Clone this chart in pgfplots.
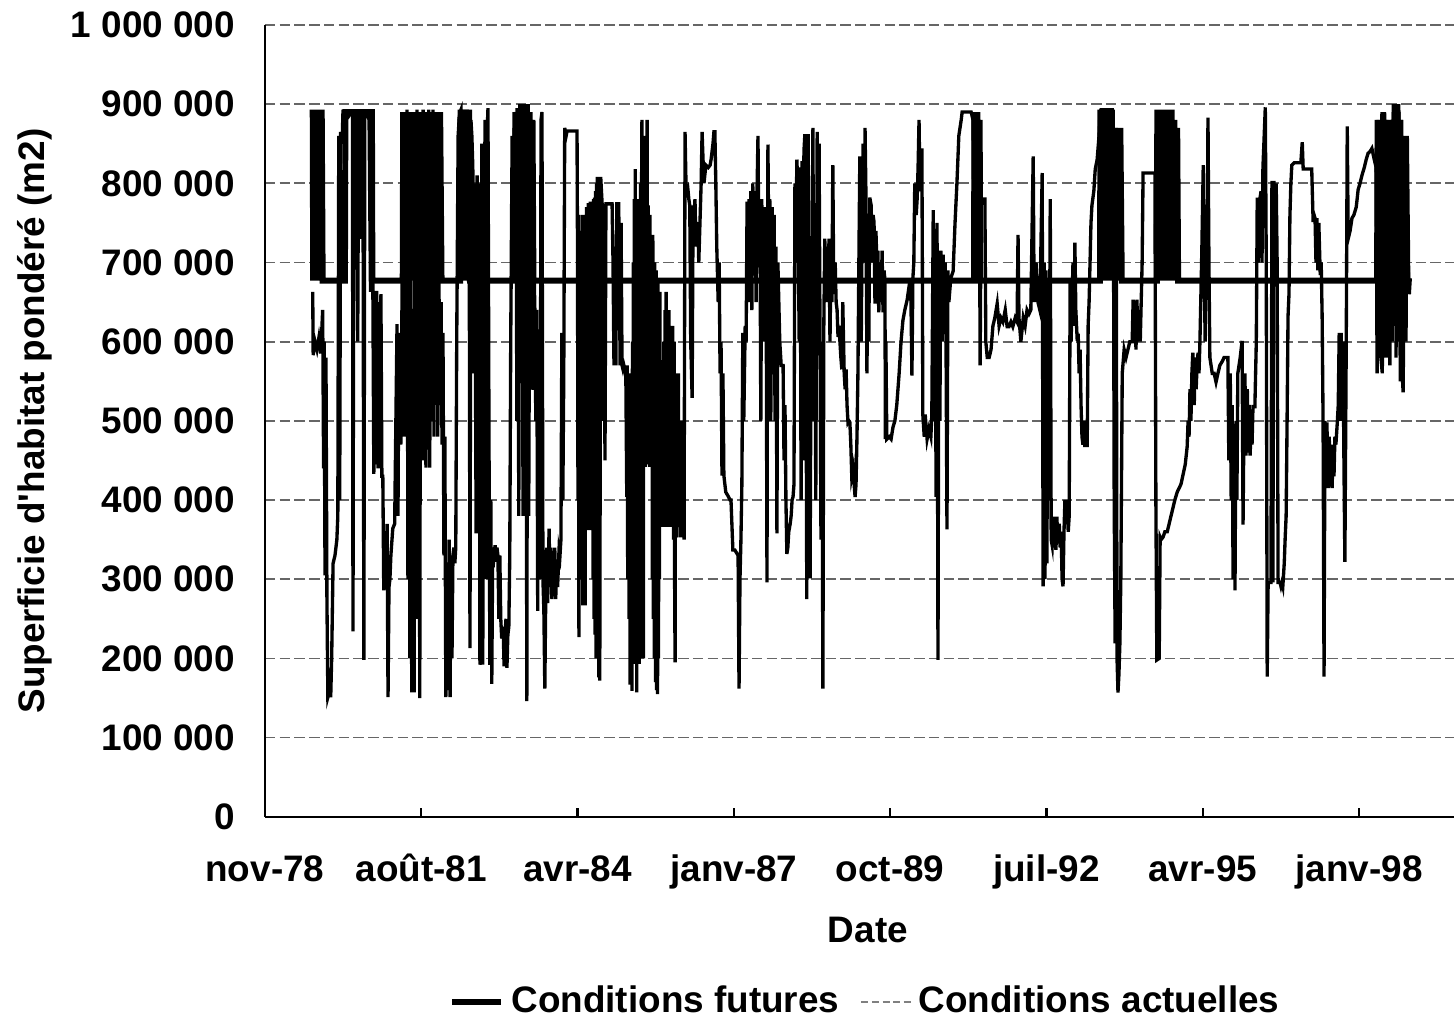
\documentclass[border=0pt]{standalone}
\usepackage{fontspec}
\setmainfont{Liberation Sans}
\usepackage{pgfplots}
\pgfplotsset{compat=1.18}
\newcommand{\lf}{\fontsize{10.5}{12.6}\selectfont\bfseries}
\begin{document}
\begin{tikzpicture}
\begin{axis}[
  name=ax,
  scale only axis,
  width=343.3pt, height=225.4pt,
  xmin=0, xmax=254.6,
  ymin=0, ymax=1000000,
  clip=true,
  axis x line*=bottom, axis y line*=left,
  axis line style={black, line width=0.6pt},
  xtick={0,33,66,99,132,165,198,231},
  xticklabels={nov-78,août-81,avr-84,janv-87,oct-89,juil-92,avr-95,janv-98},
  ytick={0,100000,200000,300000,400000,500000,600000,700000,800000,900000,1000000},
  yticklabels={0,100 000,200 000,300 000,400 000,500 000,600 000,700 000,800 000,900 000,1 000 000},
  scaled y ticks=false,
  tick align=inside,
  major tick length=2.5pt,
  xtick style={black, line width=0.6pt},
  ytick style={draw=none},
  xticklabel style={font=\lf, anchor=base, yshift=-18.5pt},
  yticklabel style={font=\lf, anchor=east, xshift=-5pt},
  ymajorgrids,
  major grid style={black!60, dash pattern=on 3pt off 1.2pt, line width=0.5pt},
  xlabel={Date},
  ylabel={Superficie d\textquotesingle habitat pondéré (m2)},
  every axis x label/.style={at={(axis description cs:0.5,0)}, anchor=base, yshift=-35.9pt, font=\lf},
  every axis y label/.style={at={(axis description cs:-0.1907,0.5)}, rotate=90, anchor=center, font=\lf},
  legend image code/.code={\draw[#1] (0pt,0pt) -- (14pt,0pt);},
  legend style={draw=none, fill=none, at={(0.5,0)}, anchor=center, yshift=-52.7pt,
    font=\lf, legend columns=2, /tikz/every even column/.append style={column sep=4pt}},
]
\addlegendimage{black, line width=1.7pt}
\addlegendentry{Conditions futures}
\addlegendimage{gray, dash pattern=on 2pt off 1pt, line width=0.6pt}
\addlegendentry{Conditions actuelles}

% Conditions actuelles (x = months since nov-78)
\addplot[black, line width=0.95pt, forget plot] coordinates {
(10.1,663000)(10.2,583000)(10.6,600000)(11.0,590000)(11.4,605000)(11.8,585000)(12.2,640000)(12.4,440000)(12.5,600000)(12.7,305000)(12.9,580000)(13.1,275000)(13.3,151000)(13.7,160000)(13.9,151000)(14.1,200000)(14.4,320000)(14.8,330000)(15.2,350000)(15.4,380000)(15.6,860000)(15.8,400000)(16.0,865000)(16.3,850000)(16.5,893000)(16.7,870000)(16.9,890000)
(17.3,890000)(17.7,885000)(18.2,890000)(18.5,890000)(18.6,234000)(18.8,890000)(19.4,890000)(19.6,600000)(19.8,890000)(20.1,730000)(20.3,890000)(20.7,890000)(20.9,198000)(21.1,890000)(21.5,890000)(22.0,880000)(22.3,663000)(22.4,890000)(22.6,880000)
(22.8,664000)(23.0,433000)(23.2,660000)(23.4,445000)(23.6,664000)(23.9,440000)(24.1,650000)(24.3,460000)(24.5,660000)(24.7,430000)(24.9,430000)(25.1,286000)(25.3,300000)(25.5,290000)(25.8,370000)(26.0,151000)(26.2,290000)(26.4,300000)(26.6,330000)(27.0,364000)(27.4,370000)(27.9,622000)(28.1,380000)(28.3,600000)(28.5,611000)(28.7,470000)(28.9,600000)
(29.1,850000)(29.4,480000)(29.6,890000)(29.8,560000)(30.0,893000)(30.2,300000)(30.4,890000)(30.6,200000)(30.8,880000)(31.0,157000)(31.3,600000)(31.5,157000)(31.7,850000)(31.9,350000)(32.1,893000)(32.3,250000)(32.5,880000)(32.7,150000)(32.9,890000)(33.2,450000)(33.4,893000)(33.6,500000)(33.8,890000)(34.0,441000)(34.2,880000)(34.4,470000)(34.6,893000)(34.8,441000)(35.1,870000)(35.3,500000)(35.5,893000)(35.7,480000)(35.9,890000)(36.1,600000)(36.3,860000)(36.5,480000)(36.7,700000)(37.0,520000)(37.2,650000)(37.4,470000)(37.6,611000)(37.8,330000)(38.0,480000)(38.2,151000)(38.4,300000)(38.6,160000)(38.9,350000)(39.1,151000)(39.3,330000)(39.5,200000)(39.7,330000)(39.9,340000)(40.1,320000)(40.3,340000)(40.5,600000)(40.8,860000)(41.0,880000)(41.2,890000)
(41.4,893000)(41.6,700000)(41.8,893000)(42.0,680000)(42.2,893000)(42.4,700000)(42.7,893000)(42.9,690000)(43.1,890000)(43.3,213000)(43.5,880000)(43.7,860000)(43.9,820000)(44.1,560000)(44.3,800000)(44.6,358000)(44.8,810000)(45.0,640000)(45.2,800000)(45.4,192000)(45.6,400000)(45.8,850000)(46.0,192000)(46.2,700000)(46.5,880000)(46.7,300000)(46.9,860000)(47.1,895000)(47.3,500000)(47.5,192000)(47.7,400000)(47.9,168000)(48.1,340000)(48.4,330000)(48.6,343000)(48.8,322000)(49.0,340000)(49.2,330000)(49.4,250000)(49.6,330000)(49.8,250000)(50.0,225000)(50.3,240000)(50.5,190000)(50.7,230000)(50.9,250000)(51.1,188000)(51.3,230000)(51.5,240000)(51.7,330000)(51.9,600000)(52.2,860000)(52.4,700000)(52.6,870000)(52.8,860000)
(53.0,890000)(53.2,500000)(53.4,893000)(53.6,380000)(53.8,890000)(54.1,600000)(54.3,895000)(54.5,380000)(54.7,900000)(54.9,420000)(55.1,900000)(55.3,146000)(55.5,900000)(55.7,380000)(56.0,890000)(56.2,540000)(56.4,880000)(56.6,539000)(56.8,700000)(57.0,640000)(57.2,500000)(57.4,640000)(57.6,260000)(57.8,600000)(58.1,300000)(58.3,880000)(58.5,890000)(58.7,300000)(58.9,260000)(59.1,162000)(59.3,280000)(59.5,340000)(59.7,270000)(60.0,364000)(60.2,290000)(60.4,340000)(60.6,275000)(60.8,330000)(61.0,300000)(61.2,340000)(61.4,275000)(61.6,320000)(61.8,290000)(62.1,337000)(62.3,330000)(62.5,350000)(62.7,611000)(62.9,400000)
(63.1,560000)(63.3,870000)(63.6,860000)(63.8,866000)(64.4,866000)(65.0,866000)(65.7,866000)(65.9,866000)(66.0,715000)(66.1,400000)(66.2,760000)(66.3,227000)(66.4,700000)(66.5,360000)(66.6,740000)(66.7,300000)(66.8,720000)(66.9,380000)(67.0,760000)(67.1,267000)(67.2,700000)(67.4,350000)(67.5,760000)(67.6,267000)(67.7,740000)(67.8,400000)(67.9,770000)(68.0,362000)(68.1,740000)(68.2,370000)(68.3,775000)(68.4,362000)(68.5,760000)(68.6,380000)(68.7,777000)(68.8,362000)(68.9,770000)(69.0,370000)(69.1,777000)(69.3,300000)(69.4,780000)(69.5,250000)(69.6,782000)(69.7,230000)(69.8,790000)(69.9,200000)(70.0,800000)(70.1,250000)(70.2,808000)(70.3,200000)(70.4,800000)(70.5,176000)(70.6,808000)(70.7,172000)(70.9,808000)(71.2,774000)
(71.4,500000)(71.6,774000)(71.8,450000)(72.0,774000)(72.4,774000)(72.8,774000)(73.3,774000)(73.5,700000)(73.7,570000)(73.9,720000)(74.1,570000)(74.3,774000)(74.7,774000)
(75.0,570000)(75.2,750000)(75.4,570000)(75.6,565000)(75.8,570000)(76.0,565000)(76.2,560000)(76.4,404000)(76.5,570000)(76.6,300000)(76.7,560000)(76.9,250000)(77.0,560000)(77.1,167000)(77.2,540000)(77.3,200000)(77.4,560000)(77.5,159000)(77.6,600000)(77.7,200000)(77.8,700000)(77.9,193000)(78.0,780000)(78.1,250000)(78.2,818000)(78.3,200000)(78.4,760000)(78.5,157000)(78.7,700000)(78.8,220000)(78.9,780000)(79.0,193000)(79.1,720000)(79.2,300000)(79.3,800000)(79.4,200000)(79.5,760000)(79.6,880000)(79.7,250000)(79.8,860000)(79.9,200000)(80.0,860000)(80.1,500000)(80.2,772000)(80.3,442000)(80.4,800000)(80.6,450000)(80.7,880000)(80.8,460000)(80.9,772000)(81.0,445000)(81.1,760000)(81.2,442000)(81.3,760000)(81.4,450000)(81.5,735000)(81.6,442000)(81.7,735000)(81.8,300000)(81.9,735000)(82.0,250000)(82.1,700000)(82.2,200000)(82.3,700000)(82.5,170000)(82.6,690000)(82.7,160000)(82.8,680000)(82.9,155000)(83.0,680000)(83.1,200000)(83.2,663000)(83.3,300000)(83.4,663000)
(83.5,366000)(83.6,500000)(83.7,370000)(83.8,492000)(83.9,366000)(84.0,520000)(84.1,380000)(84.2,600000)(84.4,366000)(84.5,640000)(84.6,380000)(84.7,663000)(84.8,370000)(84.9,600000)(85.0,366000)(85.1,600000)(85.2,380000)(85.3,640000)(85.4,366000)(85.5,620000)(85.6,370000)(85.7,550000)(85.8,380000)(85.9,560000)(86.0,366000)(86.1,620000)(86.3,350000)(86.4,600000)(86.5,300000)(86.6,195000)(86.7,500000)(86.8,380000)(86.9,560000)(87.0,353000)(87.1,540000)(87.2,380000)(87.3,560000)(87.4,400000)(87.5,500000)(87.6,470000)(87.8,353000)(88.0,420000)(88.3,500000)(88.5,350000)(88.7,865000)(88.9,800000)(89.1,790000)(89.3,793000)(89.5,780000)(89.7,772000)(89.9,600000)(90.2,529000)(90.4,772000)(90.6,760000)(90.8,780000)(91.0,720000)(91.2,740000)(91.4,751000)(91.6,700000)(91.9,760000)(92.1,800000)(92.3,865000)
(92.5,830000)(92.7,800000)(93.1,823000)(93.6,820000)(94.0,823000)(94.2,830000)(94.4,840000)(94.6,850000)(94.8,865000)(95.0,865000)(95.2,800000)(95.4,720000)(95.7,650000)(95.9,700000)(96.1,560000)(96.3,600000)(96.5,431000)(96.7,560000)(96.9,431000)(97.3,410000)(97.8,405000)(98.2,400000)(98.4,400000)(98.8,337000)(99.2,337000)(99.7,332000)(99.9,330000)(100.1,162000)(100.3,300000)(100.5,350000)(100.7,420000)
(100.9,611000)(101.1,500000)(101.4,620000)(101.6,600000)(101.8,777000)(102.0,700000)(102.2,780000)(102.4,650000)(102.6,790000)(102.8,640000)(103.0,800000)(103.3,700000)(103.5,790000)(103.7,650000)(103.9,790000)(104.1,860000)(104.3,700000)(104.5,780000)(104.7,500000)(104.9,780000)(105.2,600000)(105.4,770000)(105.6,700000)(105.8,760000)(106.0,296000)(106.2,849000)(106.4,700000)(106.6,780000)(106.8,500000)(107.1,770000)(107.3,700000)(107.5,760000)(107.7,500000)(107.9,720000)(108.1,358000)(108.3,700000)(108.5,650000)(108.7,600000)(109.0,570000)(109.2,570000)(109.4,570000)(109.6,450000)(109.8,520000)(110.0,400000)(110.2,332000)(110.4,340000)(110.6,360000)(110.9,370000)(111.1,380000)(111.3,400000)(111.5,404000)(111.7,420000)(111.9,800000)(112.1,700000)(112.3,830000)(112.5,800000)
(112.8,600000)(113.0,820000)(113.2,400000)(113.4,828000)(113.6,450000)(113.8,840000)(114.0,862000)(114.2,700000)(114.4,275000)(114.7,862000)(114.9,500000)(115.1,301000)(115.3,600000)(115.5,700000)(115.7,870000)(115.9,500000)(116.1,750000)(116.3,400000)(116.6,865000)(116.8,700000)(117.0,850000)(117.2,600000)(117.4,350000)(117.6,600000)(117.8,162000)(118.0,620000)(118.2,730000)(118.5,650000)(118.7,720000)(118.9,680000)(119.1,730000)(119.3,600000)(119.5,700000)(119.7,650000)(119.9,823000)(120.1,660000)(120.4,700000)(120.6,650000)(120.8,640000)(121.0,606000)(121.2,620000)(121.4,600000)(121.6,580000)(121.8,565000)(122.0,650000)(122.3,560000)(122.5,540000)(122.7,565000)(122.9,520000)(123.1,498000)(123.3,500000)(123.5,498000)(123.7,470000)(123.9,430000)(124.2,440000)(124.4,420000)(124.6,404000)(124.8,420000)(125.0,480000)
(125.2,560000)(125.4,700000)(125.6,834000)(125.9,600000)(126.1,760000)(126.3,850000)(126.5,700000)(126.7,870000)(126.9,782000)(127.1,560000)(127.3,700000)(127.5,600000)(127.7,782000)(128.0,772000)(128.2,700000)(128.4,760000)(128.6,751000)(128.8,648000)(129.0,740000)(129.2,700000)(129.4,715000)(129.6,637000)(129.9,700000)(130.1,650000)(130.3,715000)(130.5,637000)(130.7,690000)(130.9,679000)(131.0,477000)(131.1,600000)(131.3,477000)(131.8,480000)(132.2,477000)(132.6,492000)(133.0,500000)(133.4,520000)(133.9,560000)(134.3,600000)(134.7,627000)(135.1,640000)(135.6,653000)(136.0,670000)(136.2,679000)(136.4,650000)(136.6,557000)(136.8,680000)(137.0,700000)(137.2,800000)(137.5,760000)(137.7,780000)(137.9,820000)(138.1,880000)(138.3,790000)(138.5,820000)(138.7,844000)(138.8,700000)
(138.9,508000)(139.2,480000)(139.4,508000)(139.8,477000)(140.2,490000)(140.6,480000)(140.8,508000)(141.1,766000)(141.3,500000)(141.5,720000)(141.7,404000)(141.9,750000)(142.1,198000)(142.3,700000)(142.5,500000)(142.7,715000)(143.0,600000)(143.2,710000)(143.4,620000)(143.6,700000)(143.8,600000)(144.0,363000)(144.2,690000)(144.4,650000)(144.8,680000)(145.3,689000)(145.7,750000)(146.1,800000)(146.5,860000)(147.0,880000)(147.2,890000)(147.8,890000)(148.4,890000)(149.1,890000)(149.5,880000)(149.7,694000)(149.9,890000)(150.1,700000)(150.3,890000)(150.5,694000)(150.8,880000)(151.0,570000)
(151.2,780000)(151.6,780000)(152.0,780000)(152.2,600000)(152.5,580000)(152.9,580000)(153.3,590000)(153.7,620000)(154.1,630000)(154.6,648000)(155.0,620000)(155.4,630000)(155.8,625000)(156.3,640000)(156.7,619000)(157.1,619000)(157.5,625000)(157.9,619000)(158.4,630000)(158.8,625000)(159.0,735000)(159.2,630000)(159.6,600000)(160.1,630000)(160.5,620000)(160.9,640000)(161.3,635000)(161.7,640000)(162.2,834000)(162.4,650000)(162.8,700000)(163.2,650000)(163.6,640000)(164.1,813000)(164.3,291000)(164.5,700000)(164.7,300000)(164.9,690000)(165.1,320000)(165.3,680000)(165.5,400000)(165.8,780000)(166.0,350000)(166.2,343000)
(166.4,379000)(166.6,340000)(166.8,370000)(167.0,337000)(167.2,379000)(167.4,345000)(167.7,370000)(167.9,340000)(168.1,360000)(168.3,300000)(168.5,291000)(168.7,360000)(168.9,400000)(169.1,380000)(169.3,400000)(169.6,360000)(169.8,380000)(170.0,679000)(170.2,600000)(170.4,650000)(170.6,700000)(170.8,620000)(171.0,725000)(171.2,640000)(171.5,601000)(171.7,610000)(171.9,560000)(172.1,590000)(172.3,520000)(172.5,480000)(172.7,470000)(172.9,500000)(173.1,467000)(173.4,480000)(173.6,467000)(173.8,620000)(174.0,650000)(174.2,700000)(174.4,750000)(174.6,772000)(175.0,790000)(175.3,818000)(175.7,830000)(176.1,860000)(176.3,890000)(176.5,893000)(177.0,893000)(177.4,893000)(177.8,893000)(178.2,893000)(178.6,893000)(178.9,893000)(179.1,870000)
(179.3,400000)(179.5,219000)(179.7,870000)(179.9,200000)(180.1,157000)(180.3,180000)(180.5,219000)(180.7,300000)(181.0,560000)(181.4,590000)(181.8,580000)(182.2,590000)(182.6,600000)(183.1,600000)(183.3,653000)(183.5,600000)(183.7,640000)(183.9,590000)(184.1,653000)(184.3,600000)(184.5,640000)(184.8,600000)(185.0,650000)(185.2,700000)(185.4,813000)(186.0,813000)(186.7,813000)(187.3,813000)(187.9,813000)(188.1,400000)(188.3,198000)(188.8,200000)(189.0,353000)
(189.2,350000)(189.6,353000)(190.0,360000)(190.5,360000)(190.9,370000)(191.3,380000)(191.7,390000)(192.1,400000)(192.6,410000)(193.0,415000)(193.4,420000)(193.8,431000)(194.3,445000)(194.7,467000)(194.9,500000)(195.1,480000)(195.3,540000)(195.5,500000)(195.7,560000)(195.9,586000)(196.2,520000)(196.4,580000)(196.6,540000)(196.8,570000)(197.0,586000)(197.2,560000)(197.4,600000)(197.8,715000)(198.1,823000)(198.3,700000)(198.5,600000)(198.7,715000)(198.9,700000)(199.1,883000)(199.3,700000)(199.5,580000)(200.0,560000)(200.4,560000)(200.8,549000)(201.2,560000)(201.6,570000)(202.1,575000)(202.5,580000)(202.9,580000)(203.3,580000)(203.5,450000)(203.8,560000)(204.0,400000)(204.2,520000)(204.4,300000)(204.6,480000)(204.8,286000)(205.0,500000)(205.2,400000)(205.4,560000)(205.9,580000)(206.3,601000)(206.5,369000)(206.7,500000)(206.9,560000)
(207.1,456000)(207.4,540000)(207.6,460000)(207.8,520000)(208.0,456000)(208.2,500000)(208.4,470000)(208.6,518000)(209.0,518000)(209.3,600000)(209.5,782000)(209.7,700000)(210.1,782000)(210.3,790000)(210.5,700000)(210.7,820000)(210.9,850000)(211.2,896000)(211.4,700000)(211.6,177000)(211.8,296000)(212.2,296000)(212.4,296000)(212.6,803000)(212.8,296000)(213.0,803000)(213.3,700000)(213.5,800000)(213.7,700000)(213.9,296000)(214.3,296000)(214.5,291000)(214.7,296000)(214.9,291000)(215.2,320000)(215.4,353000)(215.6,380000)(215.8,500000)(216.0,632000)(216.2,660000)(216.4,760000)(216.6,800000)(216.8,823000)(217.3,826000)(217.9,826000)(218.5,826000)(218.7,826000)(219.0,852000)(219.2,818000)(219.8,818000)(220.4,818000)(221.0,818000)(221.3,751000)(221.5,760000)(221.7,756000)(221.9,700000)(222.1,756000)(222.3,690000)(222.5,750000)(222.8,684000)(223.0,700000)(223.2,632000)(223.4,498000)
(223.6,177000)(223.8,500000)(224.0,450000)(224.2,498000)(224.5,415000)(224.7,480000)(224.9,420000)(225.1,470000)(225.3,415000)(225.5,460000)(225.7,430000)(225.9,480000)(226.1,470000)(226.4,498000)(226.6,520000)(226.8,611000)(227.0,500000)(227.2,611000)(227.4,520000)(227.6,600000)(227.8,450000)(228.0,322000)(228.3,611000)(228.5,872000)(228.7,730000)(229.1,740000)(229.5,756000)(229.9,760000)(230.4,770000)(230.8,792000)(231.2,800000)(231.6,810000)(232.1,820000)(232.5,830000)(232.9,838000)(233.3,840000)(233.7,844000)(234.2,830000)(234.6,820000)(234.8,560000)(235.0,880000)(235.2,600000)(235.4,860000)(235.6,580000)(235.9,560000)(236.1,890000)(236.3,600000)(236.5,870000)(236.7,580000)(236.9,880000)(237.1,600000)(237.3,860000)(237.5,570000)(237.8,880000)(238.0,600000)(238.2,890000)(238.4,620000)(238.6,900000)(238.8,580000)(239.0,900000)(239.2,600000)(239.4,890000)(239.7,550000)(239.9,880000)(240.1,560000)(240.3,536000)(240.5,700000)(240.7,680000)(240.9,600000)(241.1,782000)(241.3,700000)(241.6,660000)(241.8,680000)
};

% Conditions futures
\addplot[black, line width=1.7pt, forget plot] coordinates {
(10.1,893000)(10.2,677000)(10.4,893000)(10.6,677000)(10.8,893000)(11.0,677000)(11.2,893000)(11.4,677000)(11.6,893000)(11.8,677000)(12.0,893000)(12.2,677000)
(16.9,677000)(17.0,890000)(22.6,890000)(22.7,677000)
(29.1,677000)(29.2,890000)(29.5,677000)(29.8,890000)(30.1,677000)(30.4,890000)(30.7,677000)(31.0,890000)(31.3,677000)(31.6,890000)(31.9,677000)(32.2,890000)(32.5,677000)(32.8,890000)(33.1,677000)(33.4,890000)(33.7,677000)(34.0,890000)(34.3,677000)(34.6,890000)(34.9,677000)(35.2,890000)(35.5,677000)(35.8,890000)(36.1,677000)(36.4,890000)(36.7,677000)(37.0,890000)(37.3,677000)
(41.2,677000)(41.3,893000)(41.6,677000)(41.9,893000)(42.2,677000)(42.5,893000)(42.8,677000)(43.1,893000)(43.3,677000)
(52.8,677000)(52.9,890000)(53.2,677000)(53.5,895000)(53.8,677000)(54.1,900000)(54.4,677000)(54.7,900000)(55.0,677000)(55.3,900000)(55.6,677000)(55.9,890000)(56.2,677000)(56.5,880000)(56.7,677000)
(149.7,677000)(149.8,890000)(150.1,677000)(150.4,890000)(150.7,677000)(150.9,880000)(151.0,677000)
(176.3,677000)(176.4,893000)(176.7,677000)(177.0,893000)(177.3,677000)(177.6,893000)(177.9,677000)(178.2,893000)(178.5,677000)(178.8,893000)(179.1,677000)(179.4,870000)(179.7,677000)(180.0,870000)(180.3,677000)(180.6,870000)(180.9,677000)
(188.3,677000)(188.4,893000)(188.7,677000)(189.0,893000)(189.3,677000)(189.6,893000)(189.9,677000)(190.2,893000)(190.5,677000)(190.8,893000)(191.1,677000)(191.4,893000)(191.7,677000)(192.0,880000)(192.3,677000)(192.6,870000)(192.8,677000)
(234.8,677000)(234.9,880000)(235.2,677000)(235.5,860000)(235.8,677000)(236.1,890000)(236.4,677000)(236.7,880000)(237.0,677000)(237.3,860000)(237.6,677000)(237.9,880000)(238.2,677000)(238.5,900000)(238.8,677000)(239.1,900000)(239.4,677000)(239.7,880000)(240.0,677000)(240.3,650000)(240.6,677000)(240.9,860000)(241.2,677000)(241.8,677000)
};
\end{axis}
\pgfresetboundingbox
\path[use as bounding box] ([shift={(-75.4pt,-57.5pt)}]ax.south west) rectangle ([shift={(338.5pt,232.5pt)}]ax.south west);
\end{tikzpicture}
\end{document}
